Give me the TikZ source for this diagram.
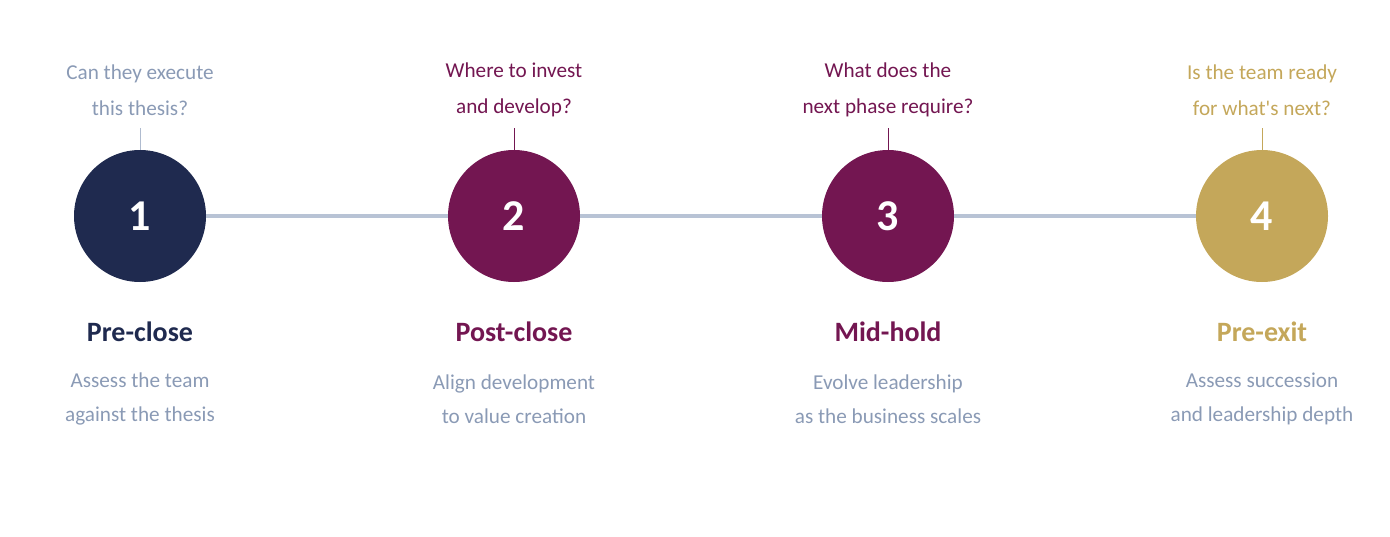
\documentclass[tikz,border=0pt]{standalone}
\usepackage{fontspec}
\setmainfont{Carlito}
\definecolor{navy}{HTML}{1F2A4F}
\definecolor{plum}{HTML}{731651}
\definecolor{gold}{HTML}{C4A75A}
\definecolor{slate}{HTML}{8A9AB5}
\definecolor{rail}{HTML}{B8C3D5}
\begin{document}
\begin{tikzpicture}[x=1pt,y=-1pt,
  stage/.style={circle,minimum size=132pt,inner sep=0pt,text=white,font=\fontsize{44}{46}\selectfont\bfseries},
  question/.style={align=center,font=\fontsize{21.2}{36}\selectfont,inner sep=0pt},
  title/.style={font=\fontsize{28}{30}\selectfont\bfseries,inner sep=0pt},
  desc/.style={align=center,text=slate,font=\fontsize{21.2}{33.5}\selectfont,inner sep=0pt},
  tick/.style={line width=0.9pt}]
\useasboundingbox (0,0) rectangle (1390,536);
\node[stage,fill=navy] (c1) at (140,216) {1};
\node[stage,fill=plum] (c2) at (514,216) {2};
\node[stage,fill=plum] (c3) at (888,216) {3};
\node[stage,fill=gold] (c4) at (1262,216) {4};
\draw[rail,line width=3.5pt] (c1) -- (c2);
\draw[rail,line width=3.5pt] (c2) -- (c3);
\draw[rail,line width=3.5pt] (c3) -- (c4);
\coordinate (t1) at (140,128);
\coordinate (t2) at (514,128);
\coordinate (t3) at (888,128);
\coordinate (t4) at (1262,128);
\draw[tick,rail!80!slate] (c1.north) -- (t1);
\draw[tick,plum] (c2.north) -- (t2);
\draw[tick,plum] (c3.north) -- (t3);
\draw[tick,gold] (c4.north) -- (t4);
\node[question,text=slate] (q1) at (140,90) {Can they execute\\this thesis?};
\node[question,text=plum] (q2) at (514,90) {Where to invest\\and develop?};
\node[question,text=plum] (q3) at (888,90) {What does the\\next phase require?};
\node[question,text=gold] (q4) at (1262,90) {Is the team ready\\for what\textquotesingle s next?};
\node[title,text=navy] (h1) at (140,332) {Pre-close};
\node[title,text=plum] (h2) at (514,332) {Post-close};
\node[title,text=plum] (h3) at (888,332) {Mid-hold};
\node[title,text=gold] (h4) at (1262,332) {Pre-exit};
\node[desc] (d1) at (140,399) {Assess the team\\against the thesis};
\node[desc] (d2) at (514,399) {Align development\\to value creation};
\node[desc] (d3) at (888,399) {Evolve leadership\\as the business scales};
\node[desc] (d4) at (1262,399) {Assess succession\\and leadership depth};
\end{tikzpicture}
\end{document}
